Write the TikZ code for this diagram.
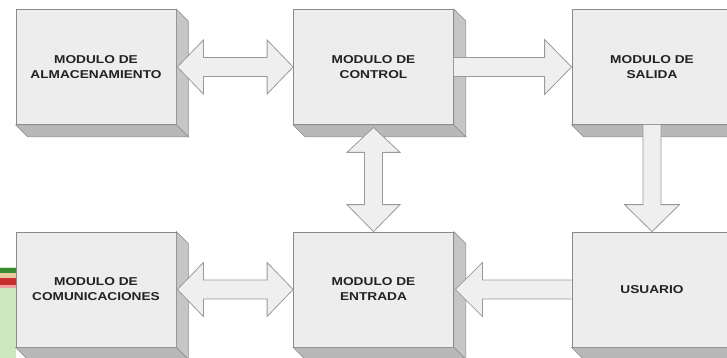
\documentclass[tikz,border=0pt]{standalone}
\usepackage{fontspec}
\newfontfamily\boxfont{Liberation Sans}[FakeStretch=1.2]
\usetikzlibrary{calc}
\definecolor{frontgray}{HTML}{EDEDED}
\definecolor{edgegray}{HTML}{8A8A8A}
\definecolor{sidegray}{HTML}{C6C6C6}
\definecolor{basegray}{HTML}{B8B8B8}
\definecolor{arrowfill}{HTML}{EFEFEF}
\definecolor{arrowedge}{HTML}{9A9A9A}
\definecolor{txtgray}{HTML}{222222}
\definecolor{stripgreen}{HTML}{CDE8C0}
\definecolor{stripdark}{HTML}{3A8A30}
\definecolor{stripbeige}{HTML}{E8C9A0}
\definecolor{stripred}{HTML}{C83030}
\definecolor{strippink}{HTML}{F0A0A0}
\tikzset{
  module/.style={draw=edgegray, fill=frontgray, line width=0.8pt,
    minimum width=160pt, minimum height=115pt, align=center,
    inner sep=0pt, text=txtgray,
    font=\boxfont\bfseries\fontsize{11.4}{15}\selectfont},
  sideface/.style={fill=sidegray, draw=edgegray, line width=0.6pt},
  baseface/.style={fill=basegray, draw=edgegray, line width=0.6pt},
  blockarrow/.style={fill=arrowfill, draw=arrowedge, line width=0.8pt, line join=miter}
}
% extruded faces of a module box (12pt deep, towards lower right)
\newcommand{\boxdepth}[1]{%
  \path[sideface] (#1.north east) -- ++(12,12) -- ($(#1.south east)+(12,12)$) -- (#1.south east) -- cycle;
  \path[baseface] (#1.south west) -- (#1.south east) -- ++(12,12) -- ($(#1.south west)+(12,12)$) -- cycle;
}
\begin{document}
\begin{tikzpicture}[x=1pt,y=-1pt]
\useasboundingbox (0,0) rectangle (727,358);
\clip (0,0) rectangle (727,358);

% coloured strip at the lower left edge
\fill[stripgreen] (0,267) rectangle (16,358);
\fill[stripdark] (0,268) rectangle (16,273);
\fill[stripbeige] (0,273) rectangle (16,278);
\fill[stripred] (0,278) rectangle (16,285);
\fill[strippink] (0,285) rectangle (16,288);

% module boxes
\node[module] (alm) at (96,67) {MODULO DE\\ALMACENAMIENTO};
\node[module] (ctl) at (373.5,67) {MODULO DE\\CONTROL};
\node[module] (sal) at (652,67) {MODULO DE\\SALIDA};
\node[module] (com) at (96,289.5) {MODULO DE\\COMUNICACIONES};
\node[module] (ent) at (373.5,289.5) {MODULO DE\\ENTRADA};
\node[module] (usr) at (652,289.5) {USUARIO};
\foreach \n in {alm,ctl,sal,com,ent,usr} {\boxdepth{\n}}

% double arrow: almacenamiento <-> control
\coordinate (a1) at ($(alm.east)+(1,0)$);
\coordinate (a2) at (ctl.west);
\draw[blockarrow] (a1) -- ($(a1)+(26,-27)$) -- ($(a1)+(26,-9.5)$) -- ($(a2)+(-26,-9.5)$)
  -- ($(a2)+(-26,-27)$) -- (a2) -- ($(a2)+(-26,27)$) -- ($(a2)+(-26,9.5)$)
  -- ($(a1)+(26,9.5)$) -- ($(a1)+(26,27)$) -- cycle;

% double arrow: comunicaciones <-> entrada
\coordinate (b1) at ($(com.east)+(1,0)$);
\coordinate (b2) at (ent.west);
\draw[blockarrow] (b1) -- ($(b1)+(26,-27)$) -- ($(b1)+(26,-9.5)$) -- ($(b2)+(-26,-9.5)$)
  -- ($(b2)+(-26,-27)$) -- (b2) -- ($(b2)+(-26,27)$) -- ($(b2)+(-26,9.5)$)
  -- ($(b1)+(26,9.5)$) -- ($(b1)+(26,27)$) -- cycle;

% double arrow: control <-> entrada
\coordinate (c1) at ($(ctl.south)+(0,2.5)$);
\coordinate (c2) at (ent.north);
\draw[blockarrow] (c1) -- ($(c1)+(-26.5,25)$) -- ($(c1)+(-9,25)$) -- ($(c2)+(-9,-27)$)
  -- ($(c2)+(-26.5,-27)$) -- (c2) -- ($(c2)+(26.5,-27)$) -- ($(c2)+(9,-27)$)
  -- ($(c1)+(9,25)$) -- ($(c1)+(26.5,25)$) -- cycle;

% arrow: control -> salida
\coordinate (d1) at (ctl.east);
\coordinate (d2) at (sal.west);
\draw[blockarrow] ($(d1)+(0,-9.5)$) -- ($(d2)+(-27,-9.5)$) -- ($(d2)+(-27,-27.5)$) -- (d2)
  -- ($(d2)+(-27,27.5)$) -- ($(d2)+(-27,9.5)$) -- ($(d1)+(0,9.5)$);

% arrow: salida -> usuario
\coordinate (e1) at (sal.south);
\coordinate (e2) at (usr.north);
\draw[blockarrow] ($(e1)+(-9,0)$) -- ($(e2)+(-9,-27)$) -- ($(e2)+(-27.5,-27)$) -- (e2)
  -- ($(e2)+(27.5,-27)$) -- ($(e2)+(9,-27)$) -- ($(e1)+(9,0)$);

% arrow: usuario -> entrada
\coordinate (f1) at (usr.west);
\coordinate (f2) at ($(ent.east)+(1.5,0)$);
\draw[blockarrow] ($(f1)+(0,-9.5)$) -- ($(f2)+(27,-9.5)$) -- ($(f2)+(27,-27)$) -- (f2)
  -- ($(f2)+(27,27)$) -- ($(f2)+(27,9.5)$) -- ($(f1)+(0,9.5)$);
\end{tikzpicture}
\end{document}
